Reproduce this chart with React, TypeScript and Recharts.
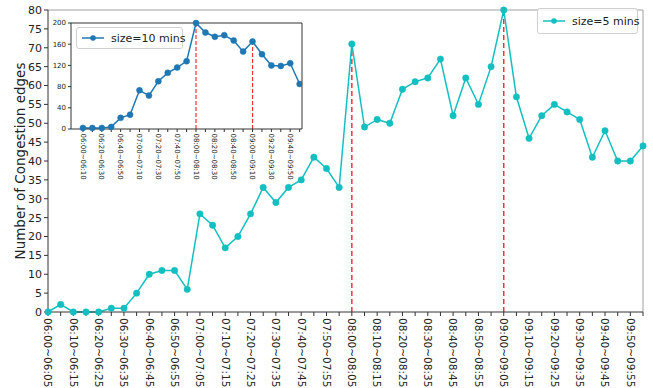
import { LineChart, Line, XAxis, YAxis, ReferenceLine, Legend } from 'recharts'

const FONT = '"DejaVu Sans", sans-serif'
const CYAN = '#13bfc0'
const BLUE = '#1f77b4'
const PEAK_RED = '#f53333'

// 5 minute windows (main chart)
const fiveMinLabels = [
  '06:00~06:05', '06:05~06:10', '06:10~06:15', '06:15~06:20', '06:20~06:25', '06:25~06:30',
  '06:30~06:35', '06:35~06:40', '06:40~06:45', '06:45~06:50', '06:50~06:55', '06:55~07:00',
  '07:00~07:05', '07:05~07:10', '07:10~07:15', '07:15~07:20', '07:20~07:25', '07:25~07:30',
  '07:30~07:35', '07:35~07:40', '07:40~07:45', '07:45~07:50', '07:50~07:55', '07:55~08:00',
  '08:00~08:05', '08:05~08:10', '08:10~08:15', '08:15~08:20', '08:20~08:25', '08:25~08:30',
  '08:30~08:35', '08:35~08:40', '08:40~08:45', '08:45~08:50', '08:50~08:55', '08:55~09:00',
  '09:00~09:05', '09:05~09:10', '09:10~09:15', '09:15~09:20', '09:20~09:25', '09:25~09:30',
  '09:30~09:35', '09:35~09:40', '09:40~09:45', '09:45~09:50', '09:50~09:55', '09:55~10:00',
]
const fiveMinValues = [
  0, 2, 0, 0, 0, 1, 1, 5, 10, 11, 11, 6,
  26, 23, 17, 20, 26, 33, 29, 33, 35, 41, 38, 33,
  71, 49, 51, 50, 59, 61, 62, 67, 52, 62, 55, 65,
  80, 57, 46, 52, 55, 53, 51, 41, 48, 40, 40, 44,
]
const fiveMinPeaks = ['08:00~08:05', '09:00~09:05']
const mainYTicks = [0, 5, 10, 15, 20, 25, 30, 35, 40, 45, 50, 55, 60, 65, 70, 75, 80]

// 10 minute windows (inset)
const tenMinLabels = [
  '06:00~06:10', '06:10~06:20', '06:20~06:30', '06:30~06:40', '06:40~06:50', '06:50~07:00',
  '07:00~07:10', '07:10~07:20', '07:20~07:30', '07:30~07:40', '07:40~07:50', '07:50~08:00',
  '08:00~08:10', '08:10~08:20', '08:20~08:30', '08:30~08:40', '08:40~08:50', '08:50~09:00',
  '09:00~09:10', '09:10~09:20', '09:20~09:30', '09:30~09:40', '09:40~09:50', '09:50~10:00',
]
const tenMinValues = [
  2, 2, 2, 4, 21, 27, 73, 63, 90, 106, 116, 128,
  200, 182, 174, 177, 167, 146, 165, 141, 120, 119, 124, 85,
]
const tenMinPeaks = ['08:00~08:10', '09:00~09:10']
const insetYTicks = [0, 40, 80, 120, 160, 200]
// inset x range in slot units (matplotlib-style margins around the 24 slots)
const insetXDomain = [-1.27, 23.25]

const mainData = fiveMinLabels.map((label, i) => ({ label, value: fiveMinValues[i] }))
const insetData = tenMinLabels.map((label, i) => ({ idx: i, label, value: tenMinValues[i] }))
const insetXTicks = insetData.map(d => d.idx)

function makeTick(fontSize: number, labels?: string[]) {
  return function RotTick(props: any) {
    const { x, y, payload, index } = props
    if (index % 2 !== 0) return <g />
    const text = labels ? labels[payload.value] : payload.value
    return (
      <g transform={`translate(${x},${y})`}>
        <text transform="rotate(90)" x={0} y={0} dy="0.35em" textAnchor="start"
          fontSize={fontSize} fill="#222" fontFamily={FONT}>
          {text}
        </text>
      </g>
    )
  }
}
const MainTick = makeTick(10.5)
const InsetTick = makeTick(7, tenMinLabels)

const YLabel = () => (
  <text x={20} y={161} transform="rotate(-90 20 161)" textAnchor="middle" dominantBaseline="central"
    fontSize={13.5} fill="#222" fontFamily={FONT}>
    Number of Congestion edges
  </text>
)

function LegendBox({ color, text, width, height }: { color: string, text: string, width: number, height: number }) {
  return (
    <div style={{
      boxSizing: 'border-box', width, height, border: '1px solid #d0d0d0', borderRadius: 3,
      background: 'rgba(255,255,255,0.85)', display: 'flex', alignItems: 'center',
      fontFamily: FONT, fontSize: 11, color: '#222', whiteSpace: 'nowrap',
    }}>
      <svg width={31} height={10} style={{ flex: 'none' }}>
        <line x1={5} y1={5} x2={27} y2={5} stroke={color} strokeWidth={1.5} />
        <circle cx={16} cy={5} r={2.8} fill={color} />
      </svg>
      <span style={{ marginLeft: 3 }}>{text}</span>
    </div>
  )
}

const axisStyle = { stroke: '#333' }

export default function App() {
  const lastLabel = fiveMinLabels[fiveMinLabels.length - 1]
  return (
    <div style={{ position: 'absolute', left: 0, top: 0, width: 653, height: 388, background: '#fff' }}>
      <LineChart width={653} height={388} data={mainData} margin={{ top: 10, right: 10, bottom: 0, left: 0 }}>
        <XAxis dataKey="label" interval={0} tick={<MainTick />} height={76} tickSize={4} tickMargin={2}
          axisLine={axisStyle} tickLine={axisStyle} />
        <YAxis domain={[0, 80]} ticks={mainYTicks} width={48} tickSize={4} tickMargin={2} interval={0}
          axisLine={axisStyle} tickLine={axisStyle}
          tick={{ fontSize: 11, fill: '#222', fontFamily: FONT }} label={<YLabel />} />
        <ReferenceLine y={80} stroke="#a0a0a0" />
        <ReferenceLine x={lastLabel} stroke="#a0a0a0" />
        {fiveMinPeaks.map(p => (
          <ReferenceLine key={p} stroke={PEAK_RED} strokeWidth={1.5} strokeDasharray="5 3"
            segment={[{ x: p, y: 0 }, { x: p, y: fiveMinValues[fiveMinLabels.indexOf(p)] }]} />
        ))}
        <Line dataKey="value" stroke={CYAN} strokeWidth={1.5} isAnimationActive={false}
          dot={{ r: 3.2, fill: CYAN, stroke: CYAN, strokeWidth: 0.5 }} />
        <Legend layout="vertical" align="center" verticalAlign="middle"
          wrapperStyle={{ top: 8, left: 537, width: 101, height: 26 }}
          content={() => <LegendBox color={CYAN} text="size=5 mins" width={101} height={26} />} />
      </LineChart>

      <div style={{ position: 'absolute', left: 0, top: 0 }}>
        <LineChart width={310} height={180} data={insetData} margin={{ top: 23, right: 8, bottom: 0, left: 0 }}>
          <XAxis dataKey="idx" type="number" domain={insetXDomain} allowDataOverflow ticks={insetXTicks}
            interval={0} tick={<InsetTick />} height={51} tickSize={3} tickMargin={1.5}
            axisLine={axisStyle} tickLine={axisStyle} />
          <YAxis domain={[0, 200]} ticks={insetYTicks} width={71} tickSize={3} tickMargin={2} interval={0}
            axisLine={axisStyle} tickLine={axisStyle}
            tick={{ fontSize: 7, fill: '#222', fontFamily: FONT }} />
          <ReferenceLine y={200} stroke="#333" />
          <ReferenceLine x={insetXDomain[1]} stroke="#333" />
          {tenMinPeaks.map(p => {
            const i = tenMinLabels.indexOf(p)
            return (
              <ReferenceLine key={p} stroke={PEAK_RED} strokeWidth={1.2} strokeDasharray="4 2"
                segment={[{ x: i, y: 0 }, { x: i, y: tenMinValues[i] }]} />
            )
          })}
          <Line dataKey="value" stroke={BLUE} strokeWidth={1.5} isAnimationActive={false}
            dot={{ r: 3, fill: BLUE, stroke: BLUE, strokeWidth: 0.5 }} />
          <Legend layout="vertical" align="center" verticalAlign="middle"
            wrapperStyle={{ top: 27, left: 76, width: 107, height: 22 }}
            content={() => <LegendBox color={BLUE} text="size=10 mins" width={107} height={22} />} />
        </LineChart>
      </div>
    </div>
  )
}
